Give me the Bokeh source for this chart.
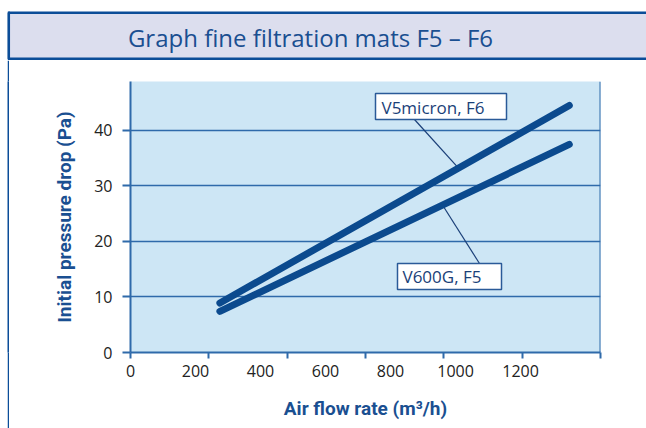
import numpy as np
from bokeh.plotting import figure
from bokeh.layouts import column, row
from bokeh.models import Range1d, FixedTicker, BoxAnnotation, Label, Span, Spacer
from bokeh.embed import file_html
from bokeh.resources import INLINE

# ---- data ----
airflow = [275, 1350]            # m3/h
v5micron_f6 = [8.9, 44.4]        # Pa
v600g_f5 = [7.4, 37.4]           # Pa
x_tick_labels = [0, 200, 400, 600, 800, 1000, 1200]
y_ticks = [0, 10, 20, 30, 40]
series_names = ["V5micron, F6", "V600G, F5"]
title_text = "Graph fine filtration mats F5 \u2013 F6"
x_title = "Air flow rate (m\u00b3/h)"
y_title = "Initial pressure drop (Pa)"

# ---- layout / style (page pixels) ----
PAGE_W, PAGE_H = 646, 428
HEAD_H = 60          # header strip height
GAP_W, LINE_W = 7, 2  # white gap + border line at the left
MX = GAP_W + LINE_W
MW, MH = PAGE_W - MX, PAGE_H - HEAD_H
FL, FR, FT, FB = 130, 600, 81, 352          # plot frame on the page
X0, X1 = 0, 1446
Y0, Y1 = 0, 48.72
x_mark_ticks = [X1 * i / 6 for i in range(7)]

BG = "#cde6f5"
AX = "#2f6aaa"
LINE = "#0b4a8e"
BORDER = "#0b4d98"
HEAD = "#dcdeee"
TITLE_C = "#1a4f91"
LABEL_C = "#1a3f78"


def dx(px):
    return X0 + (px - FL) * (X1 - X0) / (FR - FL)


def dy(py):
    return Y0 + (FB - py) * (Y1 - Y0) / (FB - FT)


# ---- header: title band ----
head = figure(width=PAGE_W, height=HEAD_H, x_range=Range1d(0, PAGE_W), y_range=Range1d(HEAD_H, 0),
              output_backend="svg", toolbar_location=None,
              x_axis_location=None, y_axis_location=None,
              min_border=0, min_border_left=0, min_border_right=0,
              min_border_top=0, min_border_bottom=0,
              background_fill_color="white", border_fill_color="white",
              outline_line_color=None)
head.grid.visible = False
head.quad(left=[7.3], right=[9.3], top=[11], bottom=[HEAD_H], fill_color=BORDER, line_color=None)
head.quad(left=[8.3], right=[760], top=[12.2], bottom=[58.3], fill_color=HEAD,
          line_color=BORDER, line_width=2.5)
head.add_layout(Label(x=310, y=36.5, text=title_text, text_font="Open Sans",
                      text_font_size="24px", text_color=TITLE_C,
                      text_align="center", text_baseline="middle"))

# ---- left border line (whole figure coloured) ----
strip = figure(width=LINE_W, height=MH, x_range=Range1d(0, 1), y_range=Range1d(0, 1),
               output_backend="svg", toolbar_location=None,
               x_axis_location=None, y_axis_location=None,
               min_border=0, min_border_left=0, min_border_right=0,
               min_border_top=FT - HEAD_H, min_border_bottom=PAGE_H - FB,
               background_fill_color=BORDER, border_fill_color=BORDER,
               outline_line_color=None)
strip.grid.visible = False

# ---- main chart ----
p = figure(width=MW, height=MH, x_range=Range1d(X0, X1), y_range=Range1d(Y0, Y1),
           output_backend="svg", toolbar_location=None,
           min_border_left=FL - MX, min_border_right=PAGE_W - FR,
           min_border_top=FT - HEAD_H, min_border_bottom=PAGE_H - FB,
           background_fill_color=BG, border_fill_color="white",
           outline_line_color=None)

xa = p.xaxis[0]
xa.ticker = FixedTicker(ticks=x_tick_labels, minor_ticks=x_mark_ticks)
xa.major_tick_line_color = None
xa.major_tick_out = 6
xa.major_tick_in = 0
xa.minor_tick_out = 6
xa.minor_tick_in = 0
xa.minor_tick_line_color = AX
xa.minor_tick_line_width = 2
xa.axis_line_color = AX
xa.axis_line_width = 2
xa.major_label_standoff = 6
xa.major_label_text_font = "Open Sans"
xa.major_label_text_font_size = "16px"
xa.major_label_text_color = "#222222"
xa.axis_label = x_title
xa.axis_label_text_font = "Roboto"
xa.axis_label_text_font_style = "bold"
xa.axis_label_text_font_size = "19px"
xa.axis_label_text_color = TITLE_C
xa.axis_label_standoff = 17

ya = p.yaxis[0]
ya.ticker = FixedTicker(ticks=y_ticks)
ya.major_tick_out = 8
ya.major_tick_in = 0
ya.minor_tick_line_color = None
ya.axis_line_color = AX
ya.axis_line_width = 2
ya.major_tick_line_color = AX
ya.major_tick_line_width = 2
ya.major_label_standoff = 10
ya.major_label_text_font = "Open Sans"
ya.major_label_text_font_size = "16px"
ya.major_label_text_color = "#222222"
ya.axis_label = y_title
ya.axis_label_text_font = "Roboto"
ya.axis_label_text_font_style = "bold"
ya.axis_label_text_font_size = "19px"
ya.axis_label_text_color = TITLE_C
ya.axis_label_standoff = 15

p.xgrid.grid_line_color = None
p.ygrid.ticker = FixedTicker(ticks=y_ticks)
p.ygrid.grid_line_color = AX
p.ygrid.grid_line_width = 1.5

p.add_layout(Span(location=X1, dimension="height", line_color=AX, line_width=2))

# leader lines (drawn first, under the thick lines)
lead_v5_x = dx(458)
lead_v6_x = dx(442)
p.segment(x0=[dx(414), dx(479)], y0=[dy(119), dy(263)],
          x1=[lead_v5_x, lead_v6_x],
          y1=[float(np.interp(lead_v5_x, airflow, v5micron_f6)),
              float(np.interp(lead_v6_x, airflow, v600g_f5))],
          line_color=LABEL_C, line_width=1.2)

p.line(airflow, v5micron_f6, line_color=LINE, line_width=7, line_cap="round")
p.line(airflow, v600g_f5, line_color=LINE, line_width=7, line_cap="round")

# label boxes
for (l, t, r, b), (tx, ty), name in [((375, 93, 506, 119), (381, 106.5), series_names[0]),
                                      ((397, 263, 501, 289), (402, 276), series_names[1])]:
    p.add_layout(BoxAnnotation(left=dx(l), right=dx(r), top=dy(t), bottom=dy(b),
                               fill_color="white", fill_alpha=1.0,
                               line_color="#2a5a98", line_alpha=1.0, line_width=1.5))
    p.add_layout(Label(x=dx(tx), y=dy(ty), text=name, text_font="Open Sans",
                       text_font_size="17px", text_color=LABEL_C,
                       text_align="left", text_baseline="middle"))

layout = column(head, row(Spacer(width=GAP_W, height=MH), strip, p, spacing=0), spacing=0)
open("out.html", "w").write(file_html(layout, INLINE))
